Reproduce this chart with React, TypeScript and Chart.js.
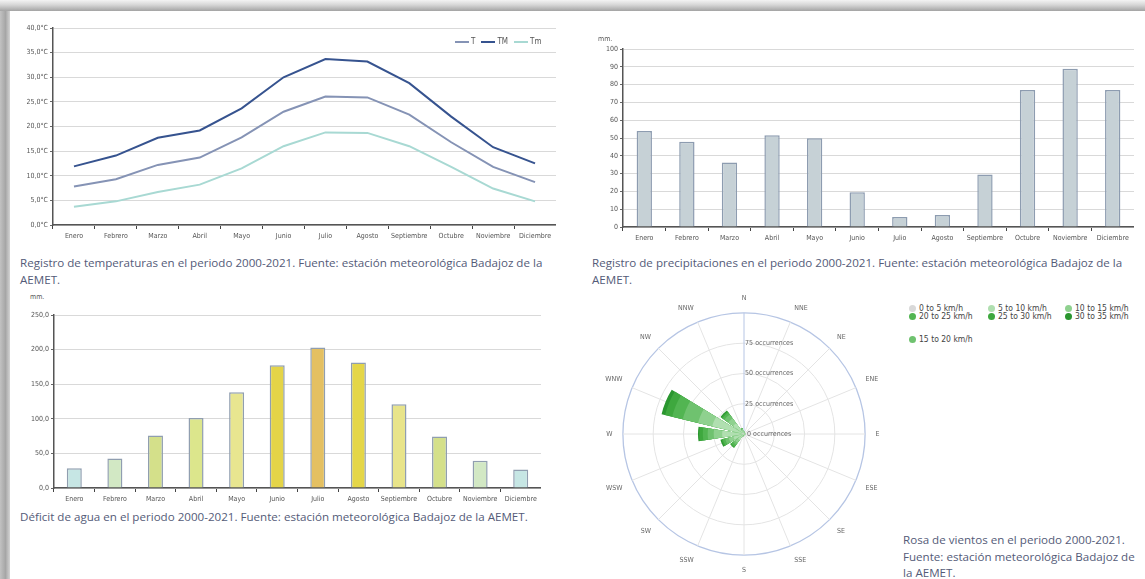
import React, { useEffect, useRef } from 'react';
import { Chart, registerables } from 'chart.js';

Chart.register(...registerables);

const NARROW = "'Liberation Sans Narrow', 'DejaVu Sans Condensed', 'Arial Narrow', sans-serif";
const CAPTION_FONT = "'Open Sans', 'Noto Sans', sans-serif";

// ---------- data ----------
const MONTHS = ['Enero', 'Febrero', 'Marzo', 'Abril', 'Mayo', 'Junio', 'Julio', 'Agosto', 'Septiembre', 'Octubre', 'Noviembre', 'Diciembre'];

const TEMP_SERIES = ['T', 'TM', 'Tm'];
const TEMP_COLORS = ['#8593b5', '#36538f', '#a8d9d3'];
const TEMP_T = [7.8, 9.3, 12.2, 13.7, 17.8, 23.0, 26.1, 25.9, 22.4, 16.8, 11.8, 8.7];
const TEMP_TM = [11.9, 14.1, 17.7, 19.2, 23.7, 30.0, 33.7, 33.2, 28.8, 22.0, 15.8, 12.5];
const TEMP_TMIN = [3.7, 4.8, 6.7, 8.2, 11.5, 16.0, 18.8, 18.7, 16.0, 11.8, 7.4, 4.8];

const PRECIP = [54.0, 47.9, 36.3, 51.5, 49.8, 19.5, 5.6, 6.8, 29.5, 76.9, 88.9, 76.9];

const DEFICIT = [28.4, 42.8, 76.0, 101.0, 138.5, 177.4, 202.9, 181.3, 121.2, 74.5, 39.4, 26.9];
const DEFICIT_COLORS = ['#c6e6e4', '#d2e8c4', '#d4e08a', '#dce68c', '#e8e690', '#e4d448', '#e4c062', '#e4d648', '#e8e48a', '#d4e08a', '#d2e8c4', '#c6e6e4'];

const DIRECTIONS = ['N', 'NNE', 'NE', 'ENE', 'E', 'ESE', 'SE', 'SSE', 'S', 'SSW', 'SW', 'WSW', 'W', 'WNW', 'NW', 'NNW'];
const SPEED_BINS = ['0 to 5 km/h', '5 to 10 km/h', '10 to 15 km/h', '15 to 20 km/h', '20 to 25 km/h', '25 to 30 km/h', '30 to 35 km/h'];
const SPEED_COLORS = ['#d9d9d9', '#b0dfb0', '#8fd18f', '#6fc26f', '#52b552', '#3ea83e', '#2a962f'];
//                N  NNE NE ENE E ESE SE SSE S SSW SW WSW W  WNW NW NNW
const WIND_0_5 =   [1, 0, 0, 0, 0, 0, 0, 0, 0, 0, 1, 1, 1, 2, 1, 1];
const WIND_5_10 =  [1, 1, 1, 1, 1, 1, 1, 1, 1, 1, 5, 8, 17, 25, 10, 2];
const WIND_10_15 = [0, 0, 0, 0, 0, 0, 0, 0, 0, 1, 3, 4, 7, 12, 5, 1];
const WIND_15_20 = [0, 0, 0, 0, 0, 0, 0, 0, 0, 0, 2, 3, 5, 13, 4, 1];
const WIND_20_25 = [0, 0, 0, 0, 0, 0, 0, 0, 0, 0, 2, 2, 4, 9, 2, 0];
const WIND_25_30 = [0, 0, 0, 0, 0, 0, 0, 0, 0, 0, 1, 1, 3, 6, 1, 0];
const WIND_30_35 = [0, 0, 0, 0, 0, 0, 0, 0, 0, 0, 0, 1, 1, 3, 1, 0];
const WIND_BINS = [WIND_0_5, WIND_5_10, WIND_10_15, WIND_15_20, WIND_20_25, WIND_25_30, WIND_30_35];
const WIND_RINGS = [0, 25, 50, 75];

// ---------- helpers ----------
const tickFont = { family: NARROW, size: 7 };

function valueAxis(min: number, max: number, step: number, fmt: (v: number) => string) {
  return {
    min,
    max,
    ticks: { stepSize: step, color: '#555', font: tickFont, padding: 2, callback: (v: any) => fmt(Number(v)) },
    grid: { color: '#d9d9d9', lineWidth: 1, tickLength: 3, tickColor: '#666' },
    border: { display: true, color: '#555', width: 1.5 },
    afterFit: (s: any) => { s.width = 50; },
  };
}

function categoryAxis() {
  return {
    offset: true,
    grid: { offset: true, drawOnChartArea: false, tickLength: 4, tickColor: '#444', lineWidth: 1 },
    border: { display: true, color: '#555', width: 1.5 },
    ticks: { color: '#555', font: tickFont, padding: 3, maxRotation: 0, autoSkip: false },
    afterFit: (s: any) => { s.height = 20; },
  };
}

const baseOptions = {
  responsive: false,
  animation: false,
  layout: { padding: { top: 10, left: 0, right: 0, bottom: 0 } },
  plugins: { legend: { display: false }, tooltip: { enabled: false } },
};

type Box = { left: number; top: number; width: number; height: number };

function ChartCanvas({ box, build }: { box: Box; build: () => any }) {
  const ref = useRef<HTMLCanvasElement | null>(null);
  useEffect(() => {
    const chart = new Chart(ref.current as HTMLCanvasElement, build());
    return () => chart.destroy();
  }, []);
  return (
    <canvas
      ref={ref}
      width={box.width}
      height={box.height}
      style={{ position: 'absolute', left: box.left, top: box.top, width: box.width, height: box.height }}
    />
  );
}

// ---------- chart configs ----------
const tempConfig = () => ({
  type: 'line',
  data: {
    labels: MONTHS,
    datasets: [TEMP_T, TEMP_TM, TEMP_TMIN].map((d, i) => ({
      label: TEMP_SERIES[i],
      data: d,
      borderColor: TEMP_COLORS[i],
      backgroundColor: TEMP_COLORS[i],
      borderWidth: 2,
      pointRadius: 0,
      tension: 0,
      fill: false,
    })),
  },
  options: {
    ...baseOptions,
    scales: {
      x: categoryAxis(),
      y: valueAxis(0, 40, 5, (v) => `${v.toFixed(1).replace('.', ',')}°C`),
    },
  },
});

const precipConfig = () => ({
  type: 'bar',
  data: {
    labels: MONTHS,
    datasets: [{
      label: 'mm',
      data: PRECIP,
      backgroundColor: '#c6d1d6',
      borderColor: '#8d9cb0',
      borderWidth: 1.5,
      barPercentage: 0.36,
      categoryPercentage: 1,
    }],
  },
  options: {
    ...baseOptions,
    scales: {
      x: categoryAxis(),
      y: valueAxis(0, 100, 10, (v) => `${v}`),
    },
  },
});

const deficitConfig = () => ({
  type: 'bar',
  data: {
    labels: MONTHS,
    datasets: [{
      label: 'mm',
      data: DEFICIT,
      backgroundColor: DEFICIT_COLORS,
      borderColor: '#909eb0',
      borderWidth: 1.5,
      barPercentage: 0.37,
      categoryPercentage: 1,
    }],
  },
  options: {
    ...baseOptions,
    scales: {
      x: categoryAxis(),
      y: valueAxis(0, 250, 50, (v) => v.toFixed(1).replace('.', ',')),
    },
  },
});

// wind rose: 16 directions, each wedge 18deg with 4.5deg gaps; 32 slot labels (direction + gap)
const ROSE_LABELS: string[] = [];
DIRECTIONS.forEach((d) => { ROSE_LABELS.push(d, ''); });

function roseSlots(values: number[]): number[] {
  const out = [values[0]];
  for (let k = 1; k < values.length; k++) out.push(0, values[k]);
  out.push(0, values[0]);
  return out;
}
const slotAngle = (i: number) => (i === 0 || i === 32 ? 9 : i % 2 === 1 ? 4.5 : 18);
const EM = '\u2003';

const roseConfig = () => {
  const cumulative: number[][] = [];
  WIND_BINS.forEach((bin, j) => {
    cumulative.push(bin.map((v, k) => v + (j > 0 ? cumulative[j - 1][k] : 0)));
  });
  return {
    type: 'polarArea',
    data: {
      labels: ROSE_LABELS,
      datasets: cumulative.map((vals, j) => ({
        label: SPEED_BINS[j],
        data: roseSlots(vals),
        backgroundColor: SPEED_COLORS[j],
        borderWidth: 0,
        angle: (ctx: any) => slotAngle(ctx.dataIndex),
      })),
    },
    options: {
      responsive: false,
      animation: false,
      layout: { padding: 0 },
      plugins: { legend: { display: false }, tooltip: { enabled: false } },
      scales: {
        r: {
          min: -0.001,
          max: 100,
          startAngle: 0,
          ticks: {
            stepSize: 25,
            z: 1,
            showLabelBackdrop: false,
            color: '#666',
            font: { family: NARROW, size: 7 },
            callback: (v: any) => {
              const r = Math.round(Number(v));
              return WIND_RINGS.includes(r) ? `${EM.repeat(8)}${r} occurrences` : '';
            },
          },
          grid: {
            circular: true,
            color: (ctx: any) => (ctx.tick && ctx.tick.value >= 100 ? '#b6c5e4' : '#e4e4e4'),
            lineWidth: (ctx: any) => (ctx.tick && ctx.tick.value >= 100 ? 1.3 : 1),
          },
          angleLines: {
            display: true,
            color: (ctx: any) => (ctx.index === 0 ? '#b6c5e4' : '#e4e4e4'),
            lineWidth: (ctx: any) => (ctx.index % 2 === 1 ? 0 : 1),
          },
          pointLabels: {
            display: true,
            color: '#666',
            padding: 5,
            font: { family: NARROW, size: 7 },
          },
        },
      },
    },
  };
};

// ---------- layout ----------
const captionStyle: React.CSSProperties = {
  position: 'absolute',
  fontFamily: CAPTION_FONT,
  fontSize: 11.6,
  lineHeight: '17px',
  color: '#545b78',
  whiteSpace: 'nowrap',
};

const smallText: React.CSSProperties = {
  position: 'absolute',
  fontFamily: NARROW,
  fontSize: 7,
  color: '#555',
  whiteSpace: 'nowrap',
  lineHeight: '9px',
};

const LEGEND_POS = [
  { x: 913, y: 308 }, { x: 992, y: 308 }, { x: 1069, y: 308 },
  { x: 913, y: 339 },
  { x: 913, y: 316 }, { x: 992, y: 316 }, { x: 1069, y: 316 },
];

export default function App() {
  return (
    <div style={{ position: 'fixed', left: 0, top: 0, width: 1145, height: 579, background: '#fff', overflow: 'hidden' }}>
      <div style={{ position: 'absolute', left: 0, top: 0, width: 10, height: 579, background: 'linear-gradient(to right, #c2c2c2, #a6a6a6 55%, #d4d4d4)' }} />
      <div style={{ position: 'absolute', left: 0, top: 0, width: 1145, height: 11, background: 'linear-gradient(to bottom, #f3f3f3, #d6d6d6 45%, #a3a3a3)' }} />

      <ChartCanvas box={{ left: 3, top: 18, width: 553, height: 227 }} build={tempConfig} />
      <div style={{ ...smallText, left: 455, top: 37, fontSize: 8 }}>
        {TEMP_SERIES.map((s, i) => (
          <span key={s} style={{ display: 'inline-block', marginRight: 6 }}>
            <span style={{ display: 'inline-block', width: 14, height: 2, background: TEMP_COLORS[i], verticalAlign: 'middle', marginRight: 2 }} />
            {s}
          </span>
        ))}
      </div>
      <div style={{ ...captionStyle, left: 20, top: 254 }}>
        Registro de temperaturas en el periodo 2000-2021. Fuente: estación meteorológica Badajoz de la<br />AEMET.
      </div>

      <ChartCanvas box={{ left: 573, top: 39, width: 561, height: 208 }} build={precipConfig} />
      <div style={{ ...smallText, left: 598, top: 35 }}>mm.</div>
      <div style={{ ...captionStyle, left: 592, top: 254 }}>
        Registro de precipitaciones en el periodo 2000-2021. Fuente: estación meteorológica Badajoz de la<br />AEMET.
      </div>

      <ChartCanvas box={{ left: 4, top: 305, width: 537, height: 203 }} build={deficitConfig} />
      <div style={{ ...smallText, left: 30, top: 293 }}>mm.</div>
      <div style={{ ...captionStyle, left: 20, top: 508 }}>
        Déficit de agua en el periodo 2000-2021. Fuente: estación meteorológica Badajoz de la AEMET.
      </div>

      <ChartCanvas box={{ left: 592, top: 294, width: 304, height: 280 }} build={roseConfig} />
      {SPEED_BINS.map((b, i) => (
        <div key={b} style={{ ...smallText, left: LEGEND_POS[i].x - 4, top: LEGEND_POS[i].y - 5, fontSize: 8.5, color: '#444', lineHeight: '10px' }}>
          <span style={{ display: 'inline-block', width: 7, height: 7, borderRadius: '50%', background: SPEED_COLORS[i], marginRight: 3, verticalAlign: '-0.5px' }} />
          {b}
        </div>
      ))}
      <div style={{ ...captionStyle, left: 903, top: 532, lineHeight: '16.5px' }}>
        Rosa de vientos en el periodo 2000-2021.<br />Fuente: estación meteorológica Badajoz de<br />la AEMET.
      </div>
    </div>
  );
}
